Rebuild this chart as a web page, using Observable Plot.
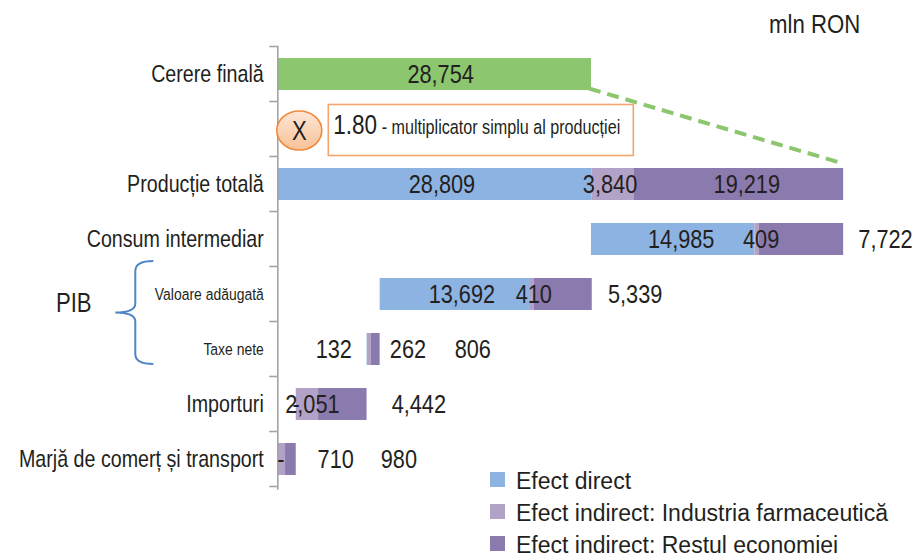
<!DOCTYPE html>
<html lang="ro"><head><meta charset="utf-8">
<script src="https://cdn.jsdelivr.net/npm/d3@7"></script>
<script src="https://cdn.jsdelivr.net/npm/@observablehq/plot@0.6"></script>
<style>
html,body{margin:0;padding:0;background:#fff;}
#wrap{position:relative;width:920px;height:555px;overflow:hidden;font-family:"Liberation Sans",Arial,sans-serif;color:#231f20;}
#wrap svg{position:absolute;left:0;top:0;overflow:visible;}
.unit{position:absolute;left:769px;top:11.7px;font-size:25.5px;line-height:1;white-space:nowrap;transform:scaleX(0.87);transform-origin:0 0;}
.leg{position:absolute;left:490px;height:30px;width:425px;font-size:23px;line-height:1;white-space:nowrap;}
.leg i{position:absolute;left:0;top:1.9px;width:15px;height:15px;}
.leg span{position:absolute;left:26px;top:0;}
</style></head><body><div id="wrap"></div>
<script>
// ---- data ----
const categories = ["Cerere finală","multiplicator","Producție totală","Consum intermediar","Valoare adăugată","Taxe nete","Importuri","Marjă de comerț și transport"];
const smallCategories = ["Valoare adăugată","Taxe nete"];
const rows = ["Producție totală","Consum intermediar","Valoare adăugată","Taxe nete","Importuri","Marjă de comerț și transport"];
const series = ["Efect direct","Efect indirect: Industria farmaceutică","Efect indirect: Restul economiei"];
const efectDirect = [28809,14985,13692,132,0,0];
const efectFarma  = [3840,409,410,262,2051,710];
const efectRest   = [19219,7722,5339,806,4442,980];
const cerereFinala = 28754;
const multiplicator = "1.80";
const multiplicatorText = " - multiplicator simplu al producției";
const unitLabel = "mln RON";
const pibLabel = "PIB";

// ---- layout / style ----
const W = 920, H = 555, ML = 277.3, MR = 42.7, MT = 46, MB = 66.6;
const xMax = 55000;
const unitsPerPx = xMax / (W - ML - MR);
const colors = ["#8db3e2","#b3a2c7","#8b7aae"];
const green = "#8cc66e";
const ink = "#231f20";
const FONT = '"Liberation Sans",Arial,sans-serif';
const SX = 0.82; // horizontal condensing of chart text
// label nudges in px (Excel-like label placement), per row / series
const labelNudge = [
  [7, -3, 8],
  [8, 4, 84],
  [7, 2, 72],
  [-34, 38, 97],
  [0, 5, 76],
  [3, 54, 108]
];
const cerereNudge = 6;

// ---- derived ----
const totals = rows.map((_, i) => efectDirect[i] + efectFarma[i] + efectRest[i]);
const T = Object.fromEntries(rows.map((r, i) => [r, totals[i]]));
const start = {};
start["Producție totală"] = 0;
start["Consum intermediar"] = T["Producție totală"] - T["Consum intermediar"];
start["Marjă de comerț și transport"] = 0;
start["Importuri"] = T["Marjă de comerț și transport"];
start["Taxe nete"] = start["Importuri"] + T["Importuri"];
start["Valoare adăugată"] = start["Taxe nete"] + T["Taxe nete"];

const segs = [];
rows.forEach((r, i) => {
  let x = start[r];
  [efectDirect, efectFarma, efectRest].forEach((arr, k) => {
    const v = arr[i];
    segs.push({row: r, series: series[k], x1: x, x2: x + v, value: v,
      lx: x + v / 2 + labelNudge[i][k] * unitsPerPx});
    x += v;
  });
});
const fmt = v => v === 0 ? "-" : d3.format(",")(v);
const cerere = [{row: "Cerere finală", value: cerereFinala}];

const chart = Plot.plot({
  width: W, height: H,
  marginLeft: ML, marginRight: MR, marginTop: MT, marginBottom: MB,
  style: {fontFamily: FONT, background: "transparent", color: ink},
  x: {domain: [0, xMax], axis: null},
  y: {domain: categories, paddingInner: 0.41, paddingOuter: 0.205, axis: null},
  color: {domain: series, range: colors},
  marks: [
    Plot.barX(cerere, {x1: 0, x2: "value", y: "row", fill: green}),
    Plot.barX(segs, {x1: "x1", x2: "x2", y: "row", fill: "series"}),
    Plot.frame({anchor: "left", stroke: "#a3a3a3", strokeWidth: 1.6}),
    Plot.text(cerere, {x: d => d.value / 2 + cerereNudge * unitsPerPx, y: "row", text: d => fmt(d.value), fontSize: 26.5, fill: ink}),
    Plot.text(segs, {x: "lx", y: "row", text: d => fmt(d.value), fontSize: 26.5, fill: ink}),
    Plot.text(categories.filter(c => c !== "multiplicator" && !smallCategories.includes(c)),
      {y: d => d, text: d => d, frameAnchor: "left", textAnchor: "end", dx: -14, fontSize: 24, fill: ink}),
    Plot.text(smallCategories,
      {y: d => d, text: d => d, frameAnchor: "left", textAnchor: "end", dx: -14, fontSize: 17, fill: ink})
  ]
});

const wrap = document.getElementById("wrap");
wrap.appendChild(chart);

// condense text horizontally about its anchor point, keeping any existing transform
function condense(sel, sx) {
  sel.each(function () {
    const x = +this.getAttribute("x") || 0;
    const t = this.getAttribute("transform") || "";
    this.setAttribute("transform", `${t} translate(${x * (1 - sx)},0) scale(${sx},1)`.trim());
  });
}
const svg = d3.select(chart);
condense(svg.selectAll("text"), SX);

// ---- decorations placed through the plot's scales ----
const xs = chart.scale("x"), ys = chart.scale("y");
const X = v => xs.apply(v);
const bw = ys.bandwidth, step = ys.step;
const bandTop = c => ys.apply(c);
const mid = c => ys.apply(c) + bw / 2;

// boundary ticks on the category axis
const bounds = categories.map(c => mid(c) - step / 2).concat([mid(categories[categories.length - 1]) + step / 2]);
svg.append("g").attr("stroke", "#a3a3a3").attr("stroke-width", 1.6)
  .selectAll("line").data(bounds).join("line")
  .attr("x1", X(0) - 8).attr("x2", X(0)).attr("y1", d => d).attr("y2", d => d);

// dashed connector from final demand to total production
svg.append("line")
  .attr("x1", X(cerereFinala) - 2).attr("y1", bandTop("Cerere finală") + bw - 1.5)
  .attr("x2", X(T["Producție totală"])).attr("y2", bandTop("Producție totală") - 4.5)
  .attr("stroke", green).attr("stroke-width", 4).attr("stroke-dasharray", "12,7");

// multiplier annotation
const defs = svg.append("defs");
const gr = defs.append("linearGradient").attr("id", "xgrad").attr("x1", 0).attr("y1", 0).attr("x2", 0).attr("y2", 1);
gr.append("stop").attr("offset", "0%").attr("stop-color", "#fde7d6");
gr.append("stop").attr("offset", "100%").attr("stop-color", "#f8c197");
const my = mid("multiplicator") + 1.5;
const deco = svg.append("g").attr("text-anchor", "start");
deco.append("ellipse").attr("cx", X(0) + 22).attr("cy", my).attr("rx", 22.5).attr("ry", 19.5)
  .attr("fill", "url(#xgrad)").attr("stroke", "#f0883a").attr("stroke-width", 1.6);
deco.append("text").attr("x", X(0) + 22).attr("y", my).attr("dy", "0.35em").attr("text-anchor", "middle")
  .attr("font-size", 27).attr("fill", ink).text("X");
deco.append("rect").attr("x", X(0) + 51).attr("y", my - 26).attr("width", 305).attr("height", 51)
  .attr("fill", "#fff").attr("stroke", "#f4a46c").attr("stroke-width", 1.6);
const mt = deco.append("text").attr("x", X(0) + 56).attr("y", my).attr("dy", "0.35em").attr("text-anchor", "start").attr("fill", ink);
mt.append("tspan").attr("font-size", 27.5).text(multiplicator);
mt.append("tspan").attr("font-size", 19.7).text(multiplicatorText);

// PIB brace
const bTop = mid("Valoare adăugată") - 33, bBot = mid("Taxe nete") + 15, bMid = (bTop + bBot) / 2;
const bx = X(0) - 142, bTip = X(0) - 162, bEnd = X(0) - 124;
deco.append("path")
  .attr("d", `M${bEnd},${bTop} Q${bx},${bTop} ${bx},${bTop + 10} L${bx},${bMid - 9} Q${bx},${bMid} ${bTip},${bMid} Q${bx},${bMid} ${bx},${bMid + 9} L${bx},${bBot - 10} Q${bx},${bBot} ${bEnd},${bBot}`)
  .attr("fill", "none").attr("stroke", "#4f86c6").attr("stroke-width", 2);
deco.append("text").attr("x", X(0) - 203.5).attr("y", bMid - 10).attr("dy", "0.35em").attr("text-anchor", "middle")
  .attr("font-size", 27).attr("fill", ink).text(pibLabel);
condense(deco.selectAll("text"), SX);

// unit label
const u = document.createElement("div");
u.className = "unit"; u.textContent = unitLabel; wrap.appendChild(u);

// legend
series.forEach((s, k) => {
  const row = document.createElement("div");
  row.className = "leg";
  row.style.top = (469.8 + k * 32) + "px";
  const sw = document.createElement("i"); sw.style.background = colors[k];
  const tx = document.createElement("span"); tx.textContent = s;
  row.appendChild(sw); row.appendChild(tx);
  wrap.appendChild(row);
});
</script></body></html>
